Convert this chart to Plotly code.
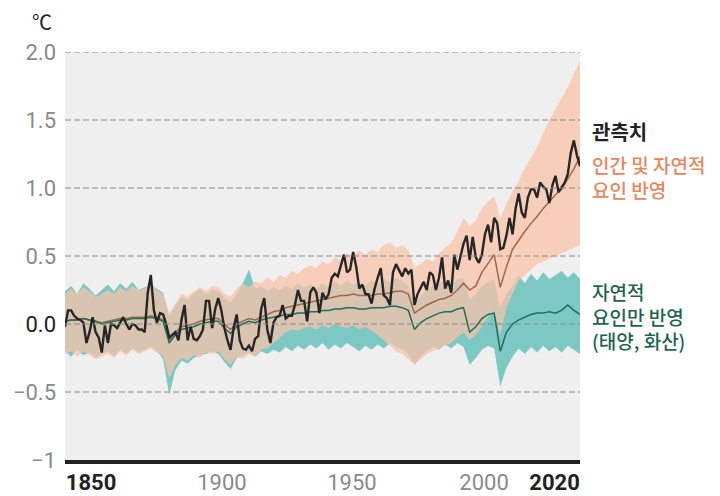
import plotly.graph_objects as go

# ---------------- data ----------------
obs_years = list(range(1850, 2021))
observed = [
    -0.02, 0.10, 0.10, 0.06, 0.04, 0.03, 0.01, -0.14, -0.06, 0.05,
    -0.06, -0.10, -0.21, -0.01, -0.14, 0.00, -0.01, -0.03, 0.01, 0.05,
    0.00, -0.04, 0.00, -0.01, -0.04, -0.04, -0.06, 0.23, 0.36, 0.10,
    0.01, 0.08, 0.07, 0.00, -0.10, -0.08, -0.06, -0.12, 0.03, 0.14,
    -0.12, -0.02, -0.11, -0.12, -0.09, -0.04, 0.17, 0.17, -0.03, 0.11,
    0.19, 0.10, -0.03, -0.12, -0.19, -0.03, 0.07, -0.12, -0.18, -0.19,
    -0.16, -0.20, -0.11, -0.09, 0.11, 0.19, -0.04, -0.14, 0.01, 0.05,
    0.06, 0.14, 0.04, 0.06, 0.06, 0.14, 0.25, 0.17, 0.17, 0.02,
    0.23, 0.27, 0.23, 0.08, 0.23, 0.18, 0.22, 0.34, 0.37, 0.35,
    0.44, 0.51, 0.38, 0.40, 0.53, 0.42, 0.26, 0.29, 0.22, 0.22,
    0.15, 0.26, 0.34, 0.41, 0.21, 0.19, 0.14, 0.38, 0.44, 0.39,
    0.35, 0.41, 0.37, 0.40, 0.14, 0.22, 0.27, 0.31, 0.25, 0.38,
    0.36, 0.25, 0.34, 0.49, 0.26, 0.32, 0.23, 0.51, 0.40, 0.49,
    0.59, 0.65, 0.47, 0.64, 0.49, 0.45, 0.51, 0.66, 0.73, 0.60,
    0.78, 0.74, 0.55, 0.56, 0.65, 0.78, 0.66, 0.85, 0.96, 0.82,
    0.78, 0.93, 0.99, 0.99, 0.93, 1.04, 1.01, 0.99, 0.89, 1.02,
    1.09, 0.97, 1.01, 1.04, 1.10, 1.26, 1.35, 1.24, 1.16, 1.31,
    1.31,
]

sim_years = list(range(1850, 2021, 2))

# human + natural (orange)
hn_mean = [
    0.02, 0.03, 0.03, 0.04, 0.03, 0.02, 0.01, 0.02, 0.03, 0.04,
    0.04, 0.05, 0.05, 0.05, 0.06, 0.05, 0.03, -0.12, -0.06, -0.02,
    -0.01, 0.00, 0.02, 0.03, 0.04, 0.04, 0.00, -0.04, 0.00, 0.02,
    0.04, 0.03, 0.05, 0.07, 0.09, 0.10, 0.12, 0.13, 0.14, 0.15,
    0.16, 0.17, 0.18, 0.19, 0.20, 0.21, 0.21, 0.22, 0.21, 0.21,
    0.21, 0.22, 0.22, 0.23, 0.24, 0.24, 0.22, 0.08, 0.11, 0.14,
    0.16, 0.18, 0.19, 0.21, 0.25, 0.30, 0.25, 0.28, 0.38, 0.45,
    0.51, 0.27, 0.42, 0.55, 0.62, 0.68, 0.74, 0.79, 0.85, 0.90,
    0.95, 0.99, 1.06, 1.14, 1.23, 1.29,
]
hn_hi = [
    0.22, 0.26, 0.22, 0.27, 0.24, 0.20, 0.22, 0.25, 0.22, 0.27,
    0.24, 0.28, 0.25, 0.26, 0.30, 0.25, 0.22, 0.08, 0.15, 0.22,
    0.20, 0.24, 0.27, 0.24, 0.28, 0.27, 0.22, 0.20, 0.26, 0.30,
    0.27, 0.31, 0.30, 0.34, 0.31, 0.36, 0.34, 0.39, 0.37, 0.41,
    0.43, 0.41, 0.46, 0.44, 0.49, 0.47, 0.52, 0.50, 0.54, 0.51,
    0.55, 0.53, 0.58, 0.60, 0.56, 0.58, 0.54, 0.42, 0.44, 0.48,
    0.46, 0.52, 0.56, 0.60, 0.68, 0.78, 0.72, 0.76, 0.85, 0.90,
    0.94, 0.78, 0.88, 0.98, 1.05, 1.15, 1.22, 1.30, 1.40, 1.50,
    1.58, 1.66, 1.74, 1.84, 1.93, 1.98,
]
hn_lo = [
    -0.22, -0.20, -0.24, -0.20, -0.23, -0.26, -0.24, -0.22, -0.25, -0.20,
    -0.23, -0.19, -0.22, -0.20, -0.18, -0.21, -0.24, -0.40, -0.30, -0.25,
    -0.27, -0.23, -0.25, -0.21, -0.22, -0.20, -0.26, -0.30, -0.24, -0.26,
    -0.22, -0.24, -0.19, -0.18, -0.14, -0.10, -0.06, -0.04, -0.05, -0.03,
    -0.02, -0.04, -0.01, -0.03, 0.00, -0.02, -0.03, -0.01, -0.04, -0.02,
    -0.05, -0.08, -0.12, -0.16, -0.20, -0.22, -0.26, -0.30, -0.26, -0.22,
    -0.20, -0.18, -0.16, -0.14, -0.10, -0.06, -0.12, -0.08, -0.02, 0.05,
    0.10, -0.08, 0.12, 0.22, 0.32, 0.36, 0.40, 0.44, 0.46, 0.48,
    0.50, 0.52, 0.54, 0.56, 0.58, 0.60,
]

# natural only (teal)
nat_mean = [
    0.02, 0.03, 0.03, 0.04, 0.03, 0.02, 0.00, 0.01, 0.02, 0.03,
    0.03, 0.04, 0.04, 0.04, 0.05, 0.04, 0.02, -0.14, -0.08, -0.04,
    -0.03, -0.02, 0.00, 0.01, 0.02, 0.02, -0.03, -0.07, -0.02, 0.00,
    0.02, 0.01, 0.03, 0.04, 0.05, 0.06, 0.07, 0.07, 0.08, 0.08,
    0.09, 0.09, 0.10, 0.10, 0.11, 0.11, 0.12, 0.12, 0.11, 0.11,
    0.12, 0.12, 0.12, 0.13, 0.13, 0.12, 0.10, -0.04, 0.01, 0.04,
    0.06, 0.08, 0.09, 0.09, 0.11, 0.12, -0.06, -0.02, 0.04, 0.07,
    0.08, -0.20, -0.06, 0.00, 0.03, 0.05, 0.07, 0.08, 0.08, 0.09,
    0.08, 0.10, 0.14, 0.10, 0.07, 0.07,
]
nat_hi = [
    0.24, 0.28, 0.22, 0.30, 0.26, 0.21, 0.25, 0.29, 0.24, 0.30,
    0.26, 0.31, 0.25, 0.27, 0.29, 0.26, 0.23, 0.06, 0.14, 0.20,
    0.18, 0.22, 0.26, 0.22, 0.25, 0.24, 0.19, 0.16, 0.22, 0.30,
    0.40, 0.26, 0.28, 0.24, 0.27, 0.25, 0.28, 0.26, 0.30, 0.27,
    0.29, 0.26, 0.30, 0.27, 0.31, 0.28, 0.32, 0.29, 0.30, 0.28,
    0.32, 0.30, 0.33, 0.31, 0.34, 0.32, 0.28, 0.15, 0.20, 0.25,
    0.28, 0.30, 0.32, 0.29, 0.33, 0.34, 0.18, 0.22, 0.28, 0.31,
    0.33, 0.12, 0.22, 0.28, 0.36, 0.30, 0.37, 0.32, 0.38, 0.33,
    0.36, 0.39, 0.34, 0.38, 0.33, 0.36,
]
nat_lo = [
    -0.20, -0.24, -0.19, -0.23, -0.21, -0.25, -0.22, -0.20, -0.24, -0.19,
    -0.22, -0.18, -0.21, -0.19, -0.17, -0.20, -0.26, -0.52, -0.34, -0.27,
    -0.29, -0.25, -0.23, -0.22, -0.20, -0.22, -0.28, -0.33, -0.25, -0.23,
    -0.21, -0.24, -0.20, -0.22, -0.19, -0.21, -0.17, -0.20, -0.16, -0.19,
    -0.15, -0.18, -0.14, -0.19, -0.15, -0.18, -0.14, -0.17, -0.20, -0.16,
    -0.19, -0.15, -0.18, -0.14, -0.17, -0.19, -0.22, -0.30, -0.24, -0.20,
    -0.17, -0.19, -0.15, -0.18, -0.14, -0.17, -0.30, -0.25, -0.19, -0.16,
    -0.18, -0.46, -0.32, -0.24, -0.18, -0.22, -0.17, -0.21, -0.16, -0.20,
    -0.17, -0.21, -0.16, -0.19, -0.22, -0.18,
]

x_tick_text = ["1850", "1900", "1950", "2000", "2020"]
x_tick_bold = [True, False, False, False, True]
x_tick_pos = [1858.5, 1901.2, 1943.6, 1986.7, 2009.7]   # visual label positions

y_tick_vals = [-1, -0.5, 0, 0.5, 1.0, 1.5, 2.0]
y_tick_text = ["−1", "−0.5", "0.0", "0.5", "1.0", "1.5", "2.0"]
grid_vals = [-0.5, 0, 0.5, 1.0, 1.5, 2.0]

for arr in (hn_mean, hn_hi, hn_lo, nat_mean, nat_hi, nat_lo):
    assert len(arr) == len(sim_years)
assert len(observed) == len(obs_years)

# ---------------- style ----------------
GRAY = "#8a8a8a"
DARK = "#222222"
ORANGE_TXT = "#E8865C"
GREEN_TXT = "#1E6450"
TEAL_FILL = "rgba(69,183,176,0.68)"
ORANGE_FILL = "rgba(250,194,167,0.74)"
L, R, T, B = 65, 140, 52, 36
W, H = 720, 496
PW, PH = W - L - R, H - T - B

def px_x(x):
    return (x - L) / PW

def px_y(y):
    return (H - B - y) / PH

fig = go.Figure()

# natural-only band
fig.add_trace(go.Scatter(x=sim_years, y=nat_lo, mode="lines", line=dict(width=0),
                         hoverinfo="skip", showlegend=False))
fig.add_trace(go.Scatter(x=sim_years, y=nat_hi, mode="lines", line=dict(width=0),
                         fill="tonexty", fillcolor=TEAL_FILL, hoverinfo="skip", showlegend=False))
# human + natural band
fig.add_trace(go.Scatter(x=sim_years, y=hn_lo, mode="lines", line=dict(width=0),
                         hoverinfo="skip", showlegend=False))
fig.add_trace(go.Scatter(x=sim_years, y=hn_hi, mode="lines", line=dict(width=0),
                         fill="tonexty", fillcolor=ORANGE_FILL, hoverinfo="skip", showlegend=False))
# mean lines
fig.add_trace(go.Scatter(x=sim_years, y=hn_mean, mode="lines",
                         line=dict(color="#9C6A4A", width=1.5), showlegend=False))
fig.add_trace(go.Scatter(x=sim_years, y=nat_mean, mode="lines",
                         line=dict(color="#1F6E5E", width=1.5), showlegend=False))
# observed
fig.add_trace(go.Scatter(x=obs_years, y=observed, mode="lines",
                         line=dict(color="#262626", width=2.4), showlegend=False))

# dashed gridlines drawn over the bands
for gv in grid_vals:
    fig.add_shape(type="line", xref="paper", x0=0, x1=1, yref="y", y0=gv, y1=gv,
                  line=dict(color=GRAY, width=1, dash="6px,3px"), layer="above")

x_labels = []
for t, b in zip(x_tick_text, x_tick_bold):
    if b:
        x_labels.append(f"<b>{t}</b>")
    else:
        x_labels.append(f"<span style='color:{GRAY}'>{t}</span>")

y_labels = []
for t in y_tick_text:
    if t == "0.0":
        y_labels.append(f"<span style='color:{DARK}'>{t}</span>")
    else:
        y_labels.append(t)

fig.update_layout(
    width=W, height=H,
    margin=dict(l=L, r=R, t=T, b=B, autoexpand=False),
    paper_bgcolor="white",
    plot_bgcolor="#efefef",
    font=dict(family="Roboto, Noto Sans CJK KR, sans-serif"),
    xaxis=dict(range=[1850, 2018], showgrid=False, zeroline=False, automargin=False,
               tickmode="array", tickvals=x_tick_pos, ticktext=x_labels,
               tickfont=dict(family="Roboto", size=22, color=DARK),
               ticks="", showline=True, linecolor=DARK, linewidth=4,
               ticklabelstandoff=0),
    yaxis=dict(range=[-1, 2], showgrid=False, zeroline=False, automargin=False,
               tickmode="array", tickvals=y_tick_vals, ticktext=y_labels,
               tickfont=dict(family="Roboto", size=22, color=GRAY),
               ticks="", ticklabelstandoff=8),
)

ann_font = "Noto Sans CJK KR"
fig.add_annotation(x=px_x(42), y=px_y(21), xref="paper", yref="paper", text="℃",
                   xanchor="center", yanchor="middle",
                   showarrow=False, font=dict(family=ann_font, size=20, color=DARK))

legend_blocks = [
    ("<b>관측치</b>", 131, DARK, 20),
    ("인간 및 자연적<br>요인 반영", 177, ORANGE_TXT, 19),
    ("자연적<br>요인만 반영<br>(태양, 화산)", 316, GREEN_TXT, 19),
]
for text, ypx, col, sz in legend_blocks:
    fig.add_annotation(x=px_x(590), y=px_y(ypx), xref="paper", yref="paper",
                       xanchor="left", yanchor="middle", align="left",
                       text=text, showarrow=False,
                       font=dict(family=ann_font, size=sz, color=col, weight=500))

fig.write_html("out.html", config={"displayModeBar": False},
               post_script="document.body.style.margin='0';")
